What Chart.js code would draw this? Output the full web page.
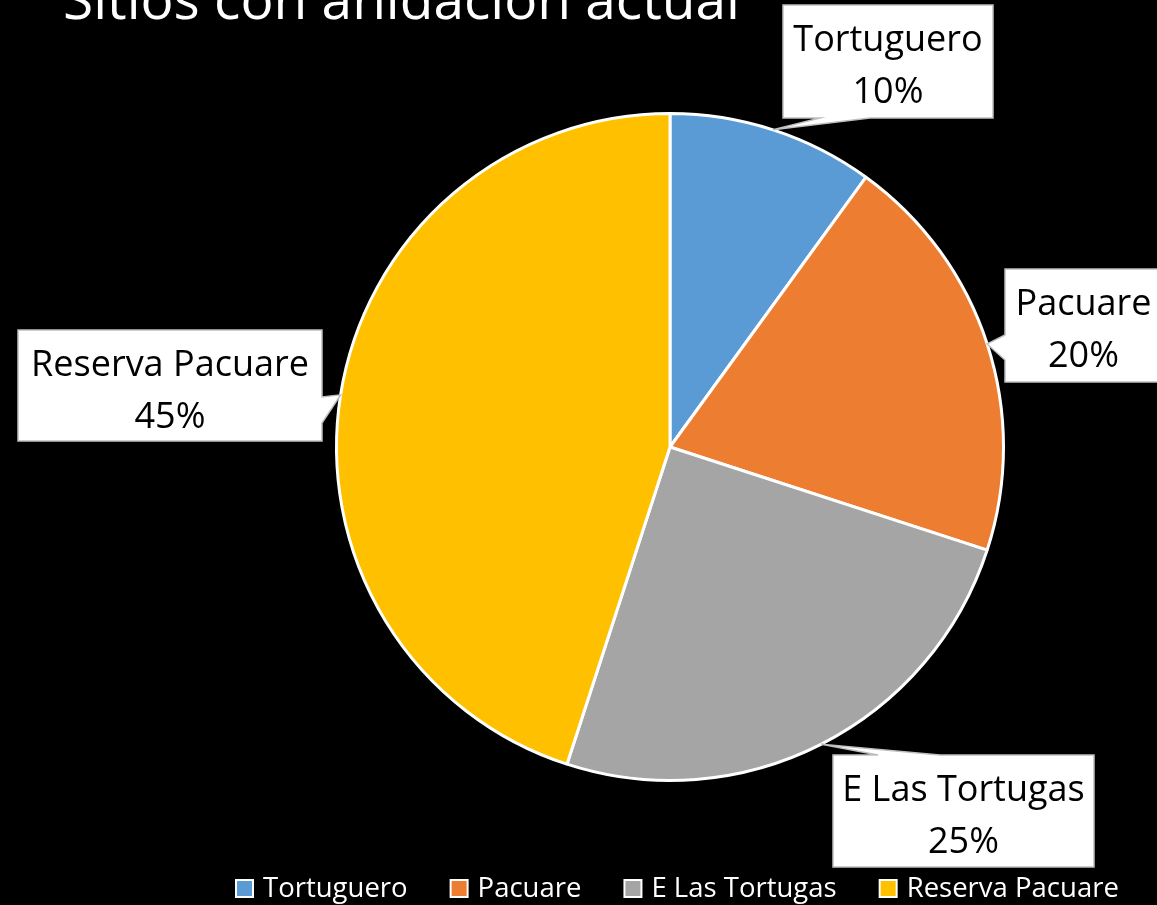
<!DOCTYPE html>
<html>
<head>
<meta charset="utf-8">
<script src="https://cdn.jsdelivr.net/npm/chart.js@4/dist/chart.umd.min.js"></script>
<style>
  html, body { margin: 0; padding: 0; background: #000; }
  canvas { display: block; }
</style>
</head>
<body>
<canvas id="pie" width="1157" height="905"></canvas>
<script>
var titleText = 'Sitios con anidación actual';
var labels = ['Tortuguero', 'Pacuare', 'E Las Tortugas', 'Reserva Pacuare'];
var values = [10, 20, 25, 45];
var colors = ['#5B9BD5', '#ED7D31', '#A5A5A5', '#FFC000'];

// cajas de las etiquetas: rectangulo + lado donde sale la flecha
var callouts = [
    {x1: 783, y1: 5, x2: 993, y2: 118, side: 'bottom', a: 820, b: 870},
    {x1: 1005, y1: 269, x2: 1162, y2: 382, side: 'left', a: 335, b: 360},
    {x1: 833, y1: 755, x2: 1094, y2: 867, side: 'top', a: 878, b: 940},
    {x1: 18, y1: 330, x2: 322, y2: 441, side: 'right', a: 397, b: 423}
];

var FONT = '"Open Sans", "DejaVu Sans", sans-serif';

var background = {
    id: 'background',
    beforeDraw: function (chart) {
        var ctx = chart.ctx;
        ctx.save();
        ctx.fillStyle = '#000';
        ctx.fillRect(0, 0, chart.width, chart.height);
        ctx.restore();
    }
};

var extras = {
    id: 'extras',
    afterDraw: function (chart) {
        var ctx = chart.ctx;
        var meta = chart.getDatasetMeta(0);
        var total = values.reduce(function (s, v) { return s + v; }, 0);
        ctx.save();

        // titulo
        ctx.fillStyle = '#fff';
        ctx.font = '55px ' + FONT;
        ctx.textAlign = 'left';
        ctx.textBaseline = 'alphabetic';
        ctx.fillText(titleText, 63, 19);

        // etiquetas con flecha
        meta.data.forEach(function (arc, i) {
            var c = callouts[i];
            var mid = (arc.startAngle + arc.endAngle) / 2;
            var tx = arc.x + Math.cos(mid) * arc.outerRadius;
            var ty = arc.y + Math.sin(mid) * arc.outerRadius;
            var pts = [[c.x1, c.y1]];
            if (c.side === 'top') pts.push([c.a, c.y1], [tx, ty], [c.b, c.y1]);
            pts.push([c.x2, c.y1]);
            if (c.side === 'right') pts.push([c.x2, c.a], [tx, ty], [c.x2, c.b]);
            pts.push([c.x2, c.y2]);
            if (c.side === 'bottom') pts.push([c.b, c.y2], [tx, ty], [c.a, c.y2]);
            pts.push([c.x1, c.y2]);
            if (c.side === 'left') pts.push([c.x1, c.b], [tx, ty], [c.x1, c.a]);

            ctx.beginPath();
            pts.forEach(function (p, k) {
                if (k === 0) ctx.moveTo(p[0], p[1]); else ctx.lineTo(p[0], p[1]);
            });
            ctx.closePath();
            ctx.fillStyle = '#fff';
            ctx.fill();
            ctx.strokeStyle = '#bfbfbf';
            ctx.lineWidth = 1.5;
            ctx.stroke();

            var cx = (c.x1 + c.x2) / 2;
            ctx.fillStyle = '#000';
            ctx.font = '36px ' + FONT;
            ctx.textAlign = 'center';
            ctx.textBaseline = 'middle';
            ctx.fillText(labels[i], cx, c.y1 + 36);
            ctx.fillText(Math.round(values[i] / total * 100) + '%', cx, c.y1 + 88);
        });

        // leyenda
        ctx.font = '27.5px ' + FONT;
        ctx.textAlign = 'left';
        ctx.textBaseline = 'middle';
        var x = 236, y = 889;
        labels.forEach(function (lab, i) {
            ctx.fillStyle = colors[i];
            ctx.fillRect(x, y - 9, 17, 17);
            ctx.strokeStyle = '#fff';
            ctx.lineWidth = 2;
            ctx.strokeRect(x, y - 9, 17, 17);
            ctx.fillStyle = '#fff';
            ctx.fillText(lab, x + 27, y);
            x += 27 + ctx.measureText(lab).width + 43;
        });

        ctx.restore();
    }
};

new Chart(document.getElementById('pie'), {
    type: 'pie',
    data: {
        labels: labels,
        datasets: [{
            data: values,
            backgroundColor: colors,
            borderColor: '#fff',
            borderWidth: 3,
            hoverOffset: 0
        }]
    },
    options: {
        responsive: false,
        devicePixelRatio: 1,
        animation: false,
        events: [],
        layout: {
            padding: {left: 183, right: 0, top: 112, bottom: 123}
        },
        plugins: {
            legend: {display: false},
            title: {display: false},
            tooltip: {enabled: false}
        }
    },
    plugins: [background, extras]
});
</script>
</body>
</html>
